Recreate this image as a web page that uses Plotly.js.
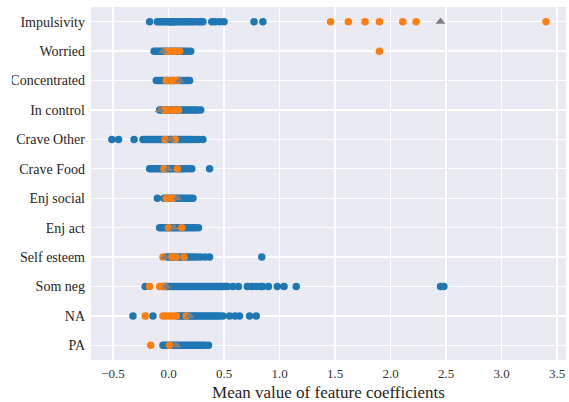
<!DOCTYPE html>
<html>
<head>
<meta charset="utf-8">
<script src="https://cdn.plot.ly/plotly-3.0.1.min.js"></script>
<style>
  html, body { margin: 0; padding: 0; background: #ffffff; }
  #chart { width: 569px; height: 402px; }
</style>
</head>
<body>
<div id="chart"></div>
<script>
// Feature names, listed top to bottom
const features = ["Impulsivity", "Worried", "Concentrated", "In control", "Crave Other",
  "Crave Food", "Enj social", "Enj act", "Self esteem", "Som neg", "NA", "PA"];

// Mean coefficient per model run (blue)
const blueImpulsivity = [-0.17, -0.10, -0.08, -0.06, -0.04, -0.02, 0.00, 0.01, 0.02, 0.03, 0.04, 0.05, 0.06, 0.08, 0.10, 0.12, 0.14, 0.16, 0.18, 0.20, 0.22, 0.24, 0.27, 0.29, 0.31, 0.39, 0.42, 0.46, 0.50, 0.77, 0.85];
const blueWorried = [-0.13, -0.11, -0.09, -0.07, -0.05, -0.03, -0.01, 0.01, 0.03, 0.05, 0.07, 0.09, 0.11, 0.13, 0.15, 0.17, 0.20];
const blueConcentrated = [-0.11, -0.09, -0.07, -0.05, -0.03, -0.01, 0.01, 0.03, 0.05, 0.07, 0.09, 0.11, 0.13, 0.15, 0.17, 0.19];
const blueInControl = [-0.08, -0.06, -0.04, -0.02, 0.00, 0.02, 0.04, 0.06, 0.08, 0.10, 0.12, 0.14, 0.16, 0.18, 0.20, 0.22, 0.24, 0.26, 0.29];
const blueCraveOther = [-0.51, -0.45, -0.31, -0.23, -0.21, -0.19, -0.17, -0.15, -0.13, -0.11, -0.09, -0.07, -0.05, -0.03, -0.01, 0.01, 0.03, 0.05, 0.07, 0.09, 0.11, 0.13, 0.15, 0.17, 0.19, 0.21, 0.24, 0.27, 0.31];
const blueCraveFood = [-0.17, -0.15, -0.13, -0.11, -0.09, -0.07, -0.05, -0.03, -0.01, 0.01, 0.03, 0.05, 0.07, 0.09, 0.11, 0.13, 0.15, 0.18, 0.21, 0.37];
const blueEnjSocial = [-0.10, -0.04, -0.02, 0.00, 0.02, 0.04, 0.06, 0.08, 0.10, 0.12, 0.14, 0.16, 0.18, 0.20, 0.22];
const blueEnjAct = [-0.08, -0.06, -0.04, -0.02, 0.00, 0.02, 0.04, 0.06, 0.08, 0.10, 0.12, 0.14, 0.16, 0.18, 0.20, 0.22, 0.24, 0.27];
const blueSelfEsteem = [-0.01, 0.01, 0.03, 0.05, 0.07, 0.09, 0.11, 0.13, 0.15, 0.17, 0.19, 0.21, 0.23, 0.26, 0.29, 0.33, 0.37, 0.84];
const blueSomNeg = [-0.21, -0.05, -0.03, -0.01, 0.01, 0.03, 0.05, 0.07, 0.09, 0.11, 0.13, 0.15, 0.17, 0.19, 0.21, 0.23, 0.25, 0.27, 0.29, 0.31, 0.33, 0.35, 0.37, 0.39, 0.41, 0.43, 0.45, 0.47, 0.49, 0.51, 0.53, 0.58, 0.63, 0.71, 0.75, 0.79, 0.83, 0.85, 0.90, 0.98, 1.04, 1.15, 2.45, 2.48];
const blueNA = [-0.32, -0.14, 0.08, 0.10, 0.12, 0.14, 0.16, 0.18, 0.20, 0.22, 0.24, 0.26, 0.28, 0.30, 0.32, 0.34, 0.36, 0.38, 0.40, 0.42, 0.44, 0.46, 0.49, 0.55, 0.60, 0.64, 0.73, 0.79];
const bluePA = [-0.05, -0.03, -0.01, 0.01, 0.03, 0.05, 0.07, 0.09, 0.11, 0.13, 0.15, 0.17, 0.19, 0.21, 0.23, 0.25, 0.27, 0.29, 0.31, 0.33, 0.36];

// Second group of coefficients (orange)
const orangeImpulsivity = [1.46, 1.62, 1.77, 1.90, 2.11, 2.23, 3.40];
const orangeWorried = [-0.02, 0.02, 0.06, 0.10, 1.90];
const orangeConcentrated = [-0.02, 0.02, 0.05, 0.08];
const orangeInControl = [-0.04, -0.01, 0.02, 0.05, 0.09];
const orangeCraveOther = [-0.03, 0.06];
const orangeCraveFood = [-0.04, 0.08];
const orangeEnjSocial = [-0.02, 0.01, 0.04];
const orangeEnjAct = [0.00, 0.12];
const orangeSelfEsteem = [-0.05, 0.03, 0.07, 0.14];
const orangeSomNeg = [-0.17, -0.08, -0.04];
const orangeNA = [-0.21, -0.05, -0.02, 0.01, 0.04, 0.07, 0.16];
const orangePA = [-0.16, 0.01];

// Reference coefficient per feature (grey triangle)
const greyValues = [2.45, -0.05, 0.10, -0.08, 0.02, 0.00, 0.08, 0.05, -0.03, -0.02, 0.19, 0.07];

// x-axis tick positions and labels
const xTickVals = [-0.5, 0, 0.5, 1, 1.5, 2, 2.5, 3, 3.5];
const xTickText = ['\u22120.5', '0.0', '0.5', '1.0', '1.5', '2.0', '2.5', '3.0', '3.5'];

const blueByFeature = [blueImpulsivity, blueWorried, blueConcentrated, blueInControl, blueCraveOther,
  blueCraveFood, blueEnjSocial, blueEnjAct, blueSelfEsteem, blueSomNeg, blueNA, bluePA];
const orangeByFeature = [orangeImpulsivity, orangeWorried, orangeConcentrated, orangeInControl, orangeCraveOther,
  orangeCraveFood, orangeEnjSocial, orangeEnjAct, orangeSelfEsteem, orangeSomNeg, orangeNA, orangePA];

function flatten(groups) {
  const xs = [], ys = [];
  groups.forEach((vals, i) => vals.forEach(v => { xs.push(v); ys.push(features[i]); }));
  return { x: xs, y: ys };
}

const blue = flatten(blueByFeature);
const orange = flatten(orangeByFeature);

const traces = [
  { type: 'scatter', mode: 'markers', x: blue.x, y: blue.y,
    marker: { color: '#1f77b4', size: 7.5, line: { width: 0 } }, showlegend: false, hoverinfo: 'x+y' },
  { type: 'scatter', mode: 'markers', x: orange.x, y: orange.y,
    marker: { color: '#ff7f0e', size: 7.5, line: { width: 0 } }, showlegend: false, hoverinfo: 'x+y' },
  { type: 'scatter', mode: 'markers', x: greyValues, y: features,
    marker: { color: '#808080', size: 8.5, symbol: 'triangle-up', line: { width: 0 } }, showlegend: false, hoverinfo: 'x+y' }
];

const serif = 'Liberation Serif';

const layout = {
  width: 569, height: 402,
  margin: { l: 91, r: 3, t: 7, b: 42 },
  paper_bgcolor: '#ffffff',
  plot_bgcolor: '#EAEAF2',
  font: { family: serif, color: '#262626' },
  xaxis: {
    range: [-0.698, 3.58],
    tickvals: xTickVals,
    ticktext: xTickText,
    showgrid: true, gridcolor: '#ffffff', gridwidth: 1.3,
    zeroline: false, showline: false, ticks: '',
    tickfont: { family: serif, size: 13, color: '#333333' },
    ticklabelstandoff: 4,
    title: { text: 'Mean value of feature coefficients', font: { family: serif, size: 17, color: '#262626' }, standoff: 6 }
  },
  yaxis: {
    type: 'category',
    categoryorder: 'array', categoryarray: features,
    range: [11.5, -0.5],
    showgrid: true, gridcolor: '#ffffff', gridwidth: 1.3,
    zeroline: false, showline: false, ticks: '',
    tickfont: { family: serif, size: 14, color: '#262626' },
    ticklabelstandoff: 5
  },
  shapes: [
    // left edge of the figure trims the widest label
    { type: 'rect', xref: 'paper', yref: 'paper', x0: -0.25, x1: -0.1666, y0: 0, y1: 1.1,
      fillcolor: '#ffffff', line: { width: 0 }, layer: 'above' }
  ]
};

Plotly.newPlot('chart', traces, layout, { displayModeBar: false, staticPlot: true });
</script>
</body>
</html>
